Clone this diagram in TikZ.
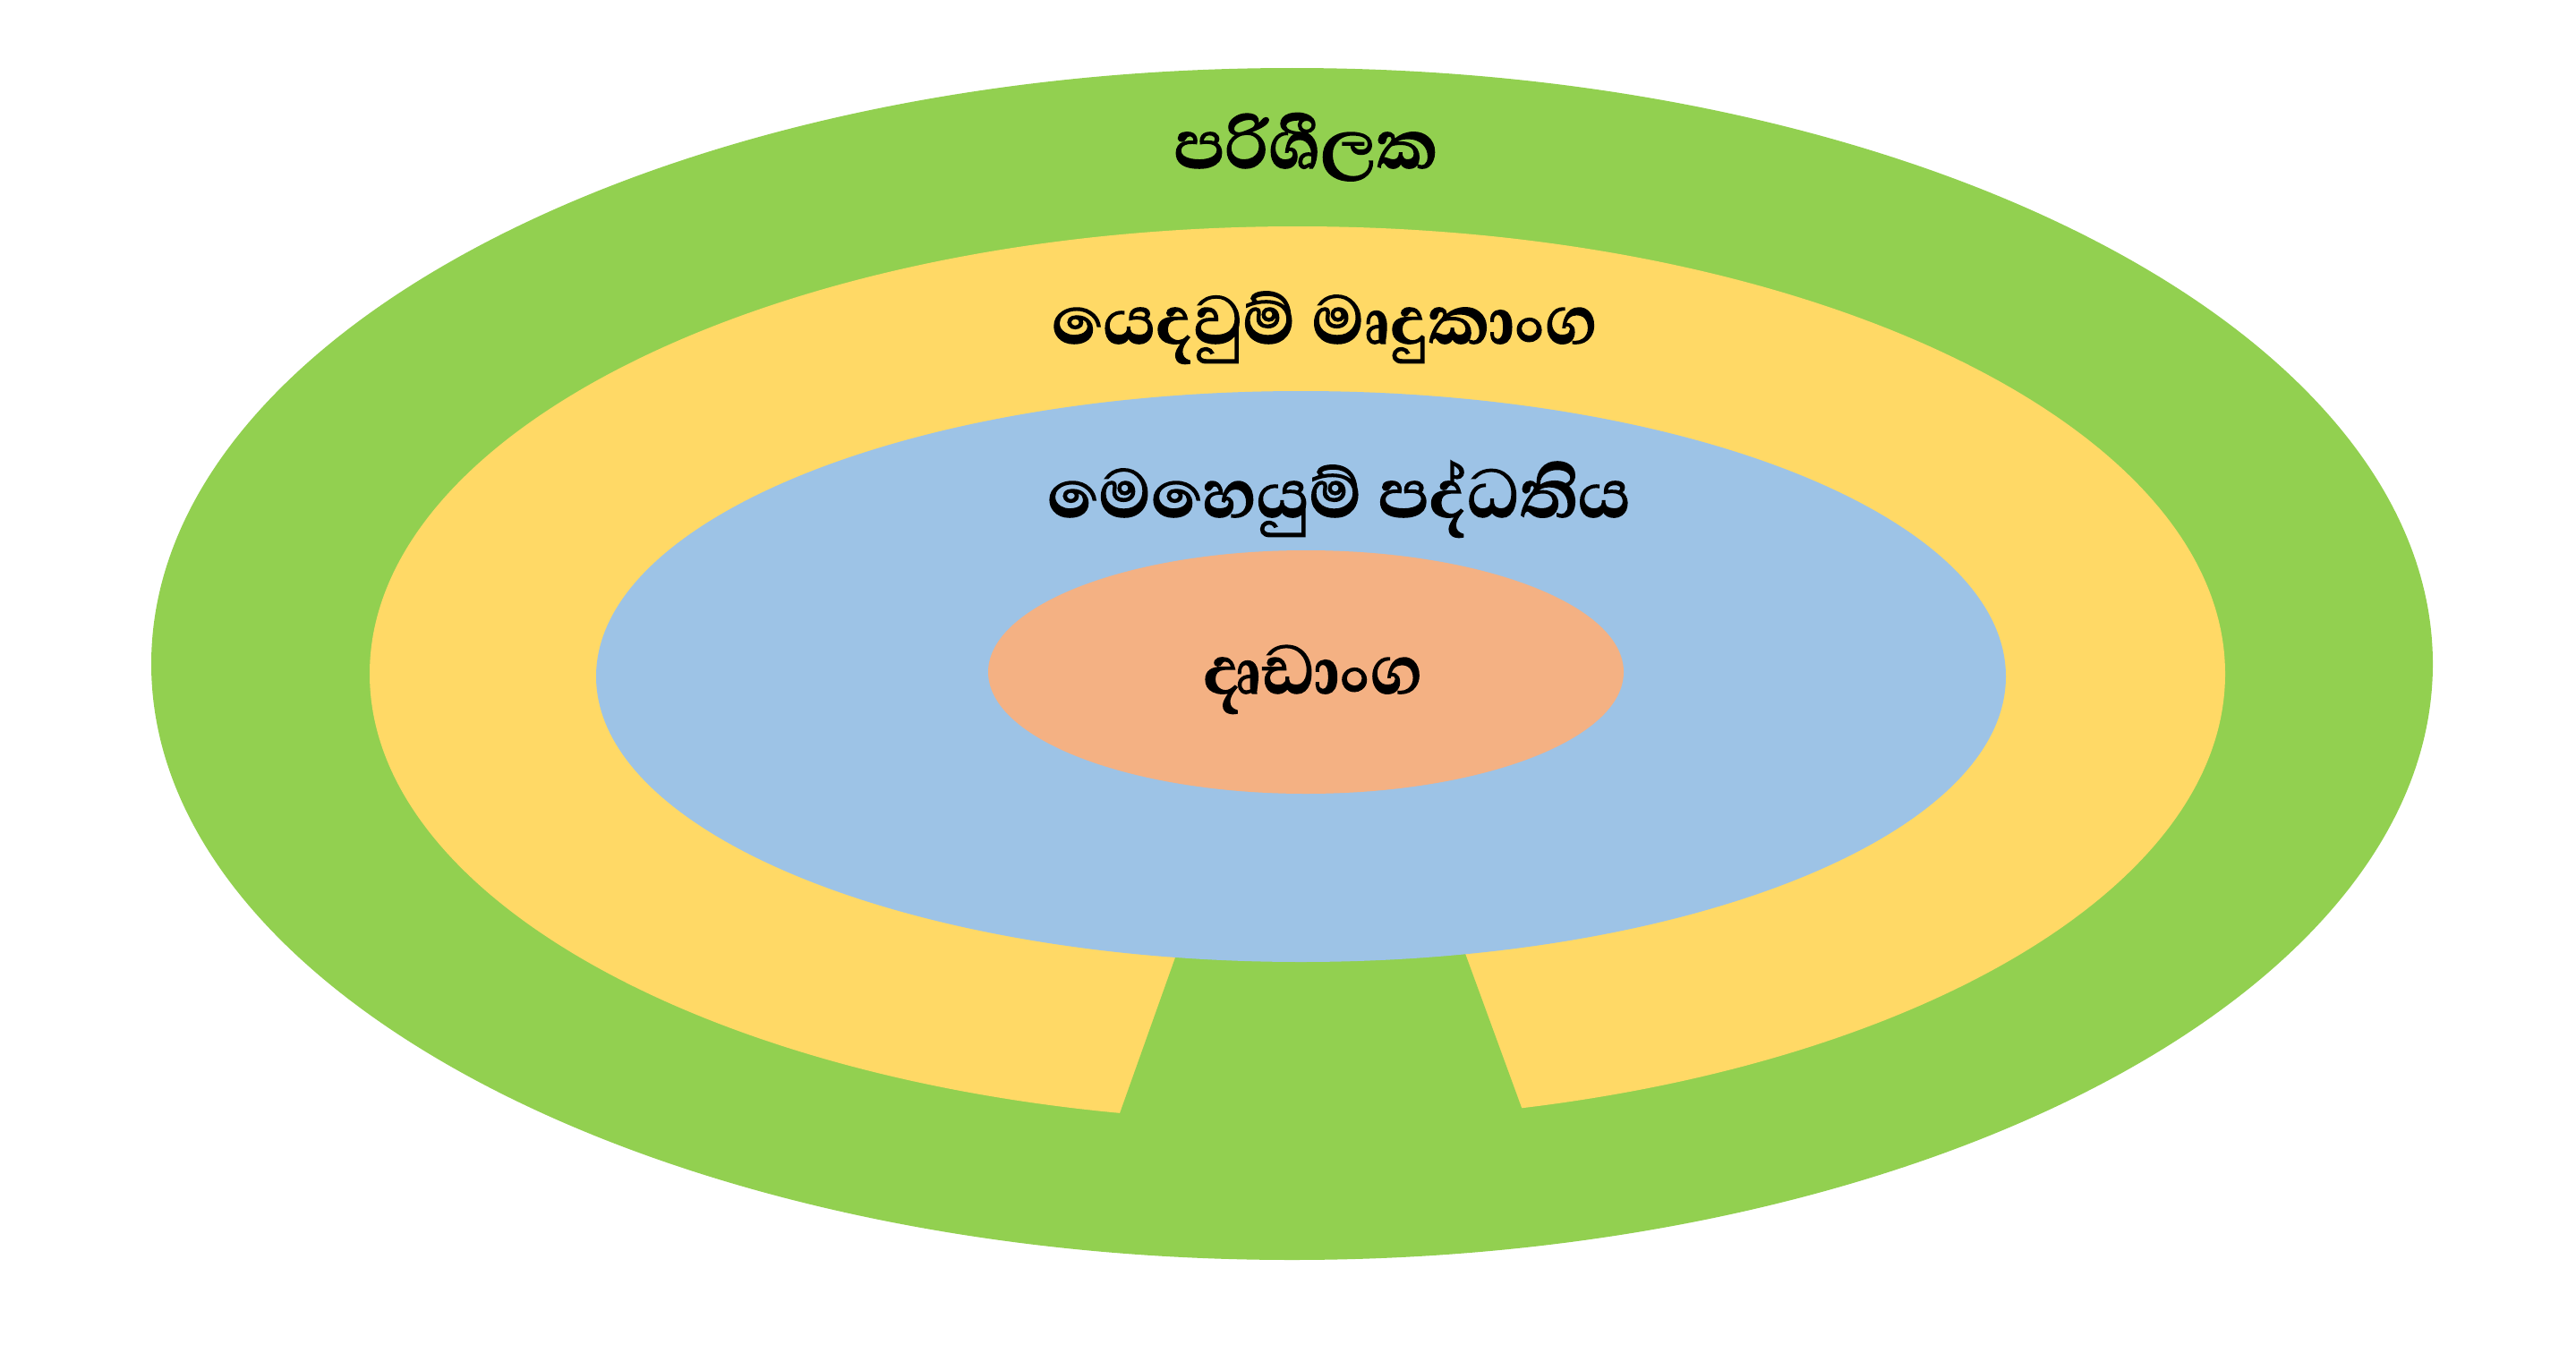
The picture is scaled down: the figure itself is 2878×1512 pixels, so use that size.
\documentclass[tikz,border=0pt]{standalone}
\usepackage{fontspec}
\newfontfamily\sinhalafont[Script=Sinhala, BoldFeatures={FakeBold=1.6}]{Abhaya Libre}
\usetikzlibrary{shapes.geometric}
\definecolor{ugreen}{HTML}{92D050}
\definecolor{uyellow}{HTML}{FFD966}
\definecolor{ublue}{HTML}{9DC3E6}
\definecolor{uorange}{HTML}{F4B183}
\tikzset{
  ringshape/.style={ellipse, inner sep=0pt, outer sep=0pt, draw=none},
  sinlabel/.style={anchor=base, inner sep=0pt, font=\sinhalafont\bfseries\fontsize{97}{110}\selectfont, text=black}
}
\begin{document}
\begin{tikzpicture}[x=1pt,y=-1pt]
\useasboundingbox (0,0) rectangle (2878,1512);
\node[ringshape, fill=ugreen, minimum width=2549pt, minimum height=1332pt] (user) at (1443.5,742) {};
\node[ringshape, fill=uyellow, minimum width=2073pt, minimum height=1000pt] (app) at (1449.5,753) {};
\fill[ugreen] (1338,1000) -- (1224,1320) -- (1730,1320) -- (1613,1000) -- cycle;
\node[ringshape, fill=ublue, minimum width=1575pt, minimum height=638pt] (os) at (1453.5,756) {};
\node[ringshape, fill=uorange, minimum width=710pt, minimum height=272pt] (hw) at (1459,751) {};
\node[sinlabel] (tuser) at (1459,188) {පරිශීලක};
\node[sinlabel] (tapp) at (1480,384) {යෙදවුම් මෘදුකාංග};
\node[sinlabel] (tos) at (1496,578) {මෙහෙයුම් පද්ධතිය};
\node[sinlabel] (thw) at (1467,775) {දෘඩාංග};
\end{tikzpicture}
\end{document}
